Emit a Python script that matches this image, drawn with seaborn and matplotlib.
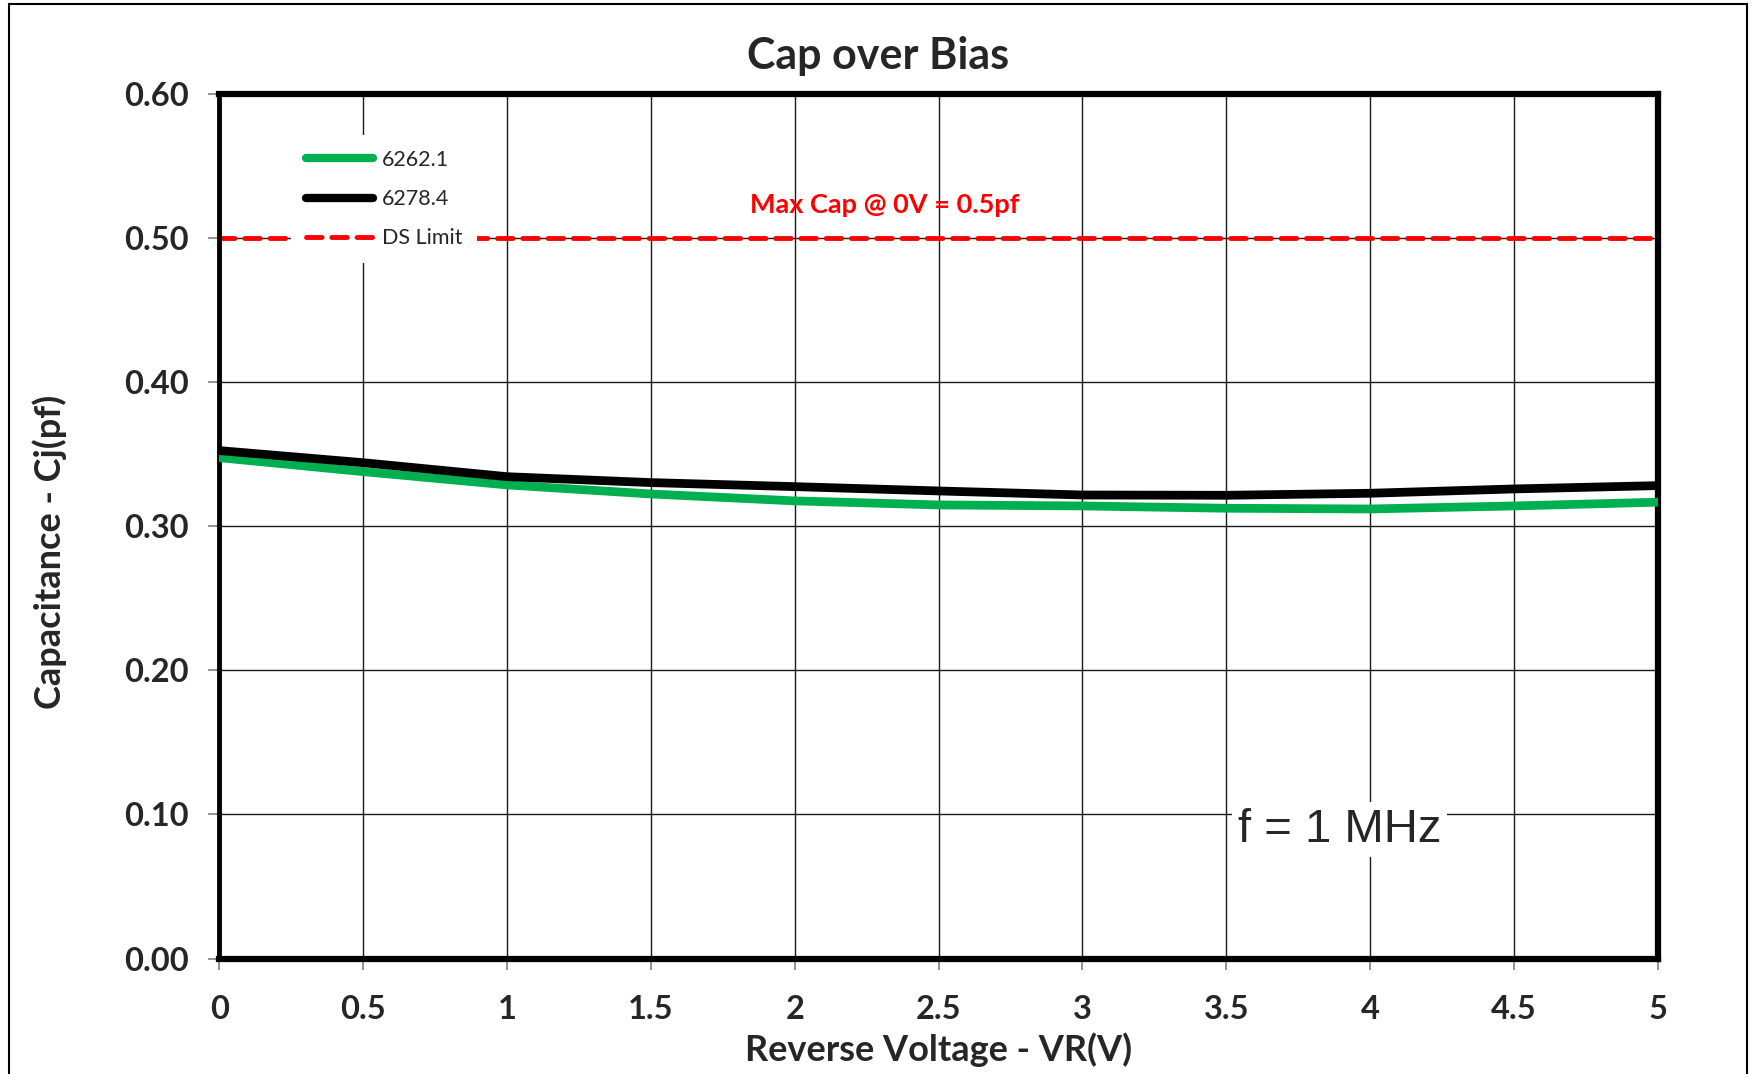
import matplotlib
matplotlib.use("Agg")
import matplotlib.pyplot as plt
import seaborn as sns
import pandas as pd
from matplotlib.patches import Rectangle
from matplotlib.lines import Line2D

# ---- data ----
voltage = [0, 0.5, 1, 1.5, 2, 2.5, 3, 3.5, 4, 4.5, 5]
cap_6262_1 = [0.3476, 0.3379, 0.3287, 0.3224, 0.3176, 0.3148, 0.3141, 0.3125, 0.3120, 0.3141, 0.3167]
cap_6278_4 = [0.3525, 0.3441, 0.3344, 0.3303, 0.3275, 0.3245, 0.3217, 0.3215, 0.3229, 0.3259, 0.3282]
ds_limit = 0.5
series_names = ["6262.1", "6278.4"]
x_ticks = [0, 0.5, 1, 1.5, 2, 2.5, 3, 3.5, 4, 4.5, 5]
x_tick_labels = ["0", "0.5", "1", "1.5", "2", "2.5", "3", "3.5", "4", "4.5", "5"]
y_ticks = [0.0, 0.1, 0.2, 0.3, 0.4, 0.5, 0.6]
y_tick_labels = ["0.00", "0.10", "0.20", "0.30", "0.40", "0.50", "0.60"]

df = pd.DataFrame({
    "V": voltage * 2,
    "C": cap_6262_1 + cap_6278_4,
    "Part": [series_names[0]] * len(voltage) + [series_names[1]] * len(voltage),
})

sns.set_style("white")
plt.rcParams["font.family"] = ["Lato", "DejaVu Sans"]

fig = plt.figure(figsize=(17.56, 10.74), dpi=100)
ax = fig.add_axes([0.125, 0.1075, 0.819, 0.805])

# grid
ax.set_axisbelow(True)
ax.grid(True, color="#1a1a1a", lw=1.0)

sns.lineplot(data=df, x="V", y="C", hue="Part",
             palette={"6262.1": "#00b050", "6278.4": "#000000"},
             lw=6.3, ax=ax, legend=False, solid_capstyle="round", zorder=3)

ax.axhline(ds_limit, color="#ff0000", lw=3.5, dashes=(3.2, 2.0),
           dash_capstyle="round", zorder=2.5)

ax.set_xlim(0, 5)
ax.set_ylim(0, 0.6)
ax.set_xticks(x_ticks)
ax.set_xticklabels(x_tick_labels)
ax.set_yticks(y_ticks)
ax.set_yticklabels(y_tick_labels)
ax.tick_params(axis="both", which="both", direction="out", length=8, width=1.2,
               color="#808080", labelsize=23.5, bottom=True, left=True)
ax.tick_params(axis="x", pad=18)
ax.tick_params(axis="y", pad=14)
for lab in ax.get_xticklabels() + ax.get_yticklabels():
    lab.set_fontweight("bold")

for side in ["top", "right", "bottom"]:
    ax.spines[side].set_color("black")
    ax.spines[side].set_linewidth(4.5)
ax.spines["left"].set_color("black")
ax.spines["left"].set_linewidth(3.5)

ax.set_xlabel("Reverse Voltage - VR(V)", fontsize=26, fontweight="bold")
ax.set_ylabel("Capacitance - Cj(pf)", fontsize=26, fontweight="bold")
ax.xaxis.set_label_coords(0.5, -0.085)
ax.yaxis.set_label_coords(-0.106, 0.47)

fig.suptitle("Cap over Bias", fontsize=31, fontweight="bold", x=0.5, y=0.948, va="center")

# legend
handles = [
    Line2D([], [], color="#00b050", lw=6, solid_capstyle="round"),
    Line2D([], [], color="#000000", lw=6, solid_capstyle="round"),
    Line2D([], [], color="#ff0000", lw=3.5, dashes=(3.2, 2.0), dash_capstyle="round"),
]
leg = ax.legend(handles, series_names + ["DS Limit"], loc="upper left",
                bbox_to_anchor=(0.05, 0.953), borderaxespad=0, borderpad=0.7,
                fontsize=15.5, handlelength=3.1, handletextpad=0.4,
                labelspacing=0.9, frameon=True, fancybox=False)
leg.get_frame().set_facecolor("white")
leg.get_frame().set_edgecolor("none")
leg.get_frame().set_alpha(1)
leg.set_zorder(5)

ax.text(2.314, 0.523, "Max Cap @ 0V = 0.5pf", color="#ff0000", fontsize=19.5,
        fontweight="bold", ha="center", va="center", zorder=6)

ax.text(3.893, 0.0895, "f = 1 MHz", fontsize=34, family=["Liberation Sans", "DejaVu Sans"],
        ha="center", va="center", zorder=6,
        bbox=dict(facecolor="white", edgecolor="none", pad=4))

# outer border
fig.patches.append(Rectangle((0.005, -0.01), 0.99, 1.006, transform=fig.transFigure,
                             fill=False, edgecolor="black", lw=1.5))

fig.savefig("out.png", dpi=100)
